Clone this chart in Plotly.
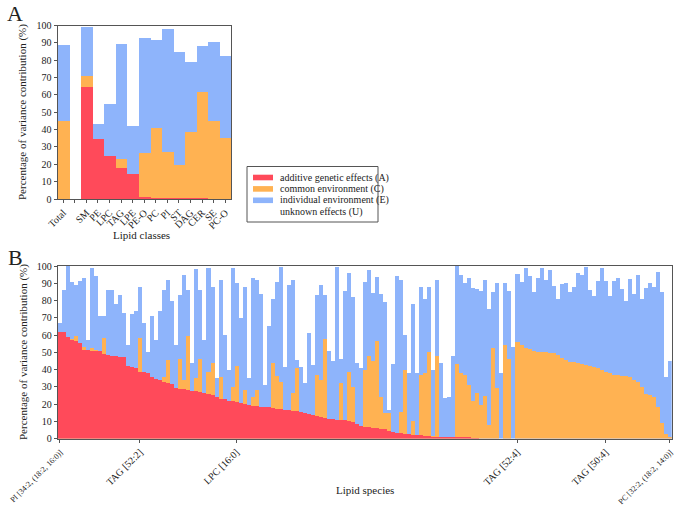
import plotly.graph_objects as go

W, H = 675, 505
RED = "#FF4A5A"
ORANGE = "#FFB252"
BLUE = "#8EB4FB"
FONT = "Liberation Serif"

# ---- panel A: lipid classes ----
class_names = ["Total", " ", "SM", "PE", "LPC", "TAG", "LPE", "PE-O", "PC", "PI", "ST", "DAG", "CER", "SE", "PC-O"]
# cumulative levels: A, A+C, A+C+E
class_a = [0, 0, 65, 35, 25, 18, 14.5, 1.5, 1, 0.8, 0.5, 0.3, 0.3, 0.2, 0]
class_ac = [45, 0, 71, 35, 25, 23.5, 14.5, 27, 41.5, 27.5, 20, 39, 62, 45.5, 35.5]
class_ace = [89, 0, 99.5, 43.5, 55, 89.5, 42.5, 93, 92, 98.5, 85, 79, 88.5, 90.5, 82.5]

# ---- panel B: lipid species (sorted by heritability) ----
species_a = [
    62, 61.5, 59, 57, 56.5, 55.5, 51.5, 51.3, 51, 50.8, 50.5, 49, 48.3, 48, 48, 47.5, 47.3, 42, 41.5, 41,
    38.7, 38.5, 38, 35.5, 34.5, 33.8,
    33, 32, 31.5, 29, 28.5, 28.5, 28, 27.5, 27.5, 27, 26.5, 26, 25.5, 24, 23, 22.7, 22, 21.7, 21, 20.7,
    20, 19.5, 19, 18.7, 18.4,
    18.2, 18, 17.6, 17.3, 17, 16.8, 16.4, 16.2, 15.8, 15.3, 14.8, 14.3, 13.8, 13.2, 12.4, 11.8, 11.5, 11.2,
    11, 10.8, 10.5, 10, 9.5, 8.2, 7, 6.7, 6.5, 6.3, 6, 5.7, 5.4, 4.5, 3.6, 3.2, 3, 2.8, 2.5, 2.2, 2, 1.8,
    1.5, 1.2, 1.0, 0.8, 0.6, 0.5, 0.5, 0.4, 0.4, 0.3, 0.3, 0.3, 0.2, 0.2,
    0, 0, 0, 0, 0, 0, 0, 0, 0, 0, 0, 0, 0, 0, 0, 0, 0, 0, 0, 0, 0, 0, 0, 0,
    0, 0, 0, 0, 0, 0, 0, 0, 0, 0, 0, 0, 0, 0, 0, 0, 0, 0, 0, 0, 0, 0, 0, 0,
]
species_ac = [
    62, 61.5, 59, 57.5, 59.4, 55.5, 52.8, 51.3, 52.7, 51.5, 50.5, 58, 48.3, 48, 48, 47.5, 47.3, 42, 41.5, 41,
    58.5, 38.5, 38, 35.5, 34.5, 33.8,
    35.4, 45.5, 31.5, 29, 46, 34, 59.4, 27.5, 35, 46, 26.5, 38.7, 43.5, 24, 35.8, 22.7, 22, 30, 42, 20.7,
    28.4, 19.5, 24, 28.4, 18.4,
    18.2, 18, 44, 36, 33, 16.8, 16.4, 26.6, 40.7, 15.3, 14.8, 14.3, 13.8, 36.9, 34, 57.5, 11.5, 11.2,
    11, 32, 10.5, 38.8, 30, 8.2, 7, 39.6, 47.9, 45, 56.5, 24, 15, 14.5, 3.6, 3.2, 15.6, 40, 2.5, 10, 2, 37,
    38, 50, 1.2, 48, 0.6, 0.5, 0.5, 0.4, 43, 37.8, 37, 31, 22, 26.5,
    19.5, 24.7, 8, 52.5, 29, 0, 54, 46, 0, 56, 54, 52.5, 51.6, 50.6, 50.3, 50, 50, 49.7, 49.3, 48.4,
    46.4, 45.5, 44.5, 44.5, 43.5, 43, 42.5, 42, 41.6, 40.6, 39.6, 38.7, 37.7, 36.7, 36.7, 36.5, 36.2, 35.8,
    34.2, 32.9, 30, 25.7, 25, 24, 18.4, 9, 2.5, 0.5,
]
species_ace = [
    67, 86, 100, 91, 89, 91.5, 93, 57, 99, 94, 71, 71, 86, 86, 78, 83, 73, 54, 72, 74, 88, 67, 50, 71, 57, 74,
    86, 92, 80, 54, 83, 95, 86, 44, 98, 86, 57, 99, 88, 35, 92, 60, 40, 99, 90, 70, 88, 35, 93, 92, 84,
    31, 65, 81, 91, 99.6,
    41.7, 89, 92, 45.5, 41.7, 32, 61.4, 42.7, 83, 89, 83,
    51, 45, 99.6, 46, 85.7, 96, 82, 43.6, 40.7, 91,
    97.7, 84.5, 93.8, 84, 79,
    16.5, 43, 94, 92, 60, 38, 78, 38, 88, 81, 88, 40, 92, 44, 23.5, 24, 48,
    100, 95, 90, 93, 87, 86.5, 85.5, 92, 75, 85, 90.3, 38, 90.3, 85.5, 53, 95.4, 91, 99, 94, 85,
    93, 98.6, 92, 97.7, 88.4, 80.7, 89.6, 90, 85, 87.6, 96, 94.8, 99.2, 86, 82.6, 91.5, 98.6, 91.5,
    82.6, 91.5, 92.8, 86.5, 80, 92.3, 84, 94.8, 80.7, 87, 90, 87.6, 96.7, 85, 35.4, 45,
]
species_idx = list(range(len(species_ace)))
species_tick_pos = [0, 20, 44, 114, 136, 152]
species_tick_text = ["PI [34:2, (18:2, 16:0)]", "TAG [52:2]", "LPC [16:0]", "TAG [52:4]", "TAG [50:4]",
                     "PC [32:2, (18:2, 14:0)]"]

legend_labels = ["additive genetic effects (A)", "common environment (C)",
                 "individual environment (E)", "unknown effects (U)"]
legend_colors = [RED, ORANGE, BLUE, None]


def px_x(x):
    return x / W


def px_y(y):
    return 1 - y / H


# the two long end labels are set a little smaller so they stay inside the page
tick_labels_b = [
    "<span style='font-size:8px'>%s</span>" % t if len(t) > 12 else t for t in species_tick_text
]

fig = go.Figure()

for vals, col in [(class_ace, BLUE), (class_ac, ORANGE), (class_a, RED)]:
    fig.add_trace(go.Bar(x=class_names, y=vals, marker=dict(color=col, line=dict(width=0)),
                         xaxis="x", yaxis="y", showlegend=False, hoverinfo="skip"))
for vals, col in [(species_ace, BLUE), (species_ac, ORANGE), (species_a, RED)]:
    fig.add_trace(go.Bar(x=species_idx, y=vals, marker=dict(color=col, line=dict(width=0)),
                         xaxis="x2", yaxis="y2", showlegend=False, hoverinfo="skip"))

tickfont = dict(family=FONT, size=10, color="#222")
axis_common = dict(showline=True, linecolor="#555", linewidth=1, mirror=True, showgrid=False,
                   zeroline=False, ticks="outside", ticklen=3, tickcolor="#555", tickfont=tickfont,
                   automargin=False, ticklabeloverflow="allow")

fig.update_layout(
    width=W, height=H,
    margin=dict(l=0, r=0, t=0, b=0),
    paper_bgcolor="white", plot_bgcolor="white",
    barmode="overlay", bargap=0,
    font=dict(family=FONT, color="#222"),
    xaxis=dict(domain=[px_x(57.5), px_x(231)], anchor="y", type="category", tickangle=-45,
               tickmode="array", tickvals=class_names, ticktext=class_names, **axis_common),
    yaxis=dict(domain=[px_y(199), px_y(25.5)], anchor="x", range=[0, 100], dtick=10, **axis_common),
    xaxis2=dict(domain=[px_x(57.7), px_x(671.7)], anchor="y2", range=[-0.5, len(species_ace) - 0.5],
                tickmode="array", tickvals=species_tick_pos, ticktext=tick_labels_b, tickangle=-45,
                **axis_common),
    yaxis2=dict(domain=[px_y(438.5), px_y(266)], anchor="x2", range=[0, 100], dtick=10, **axis_common),
)

ann = [
    dict(text="A", x=px_x(15), y=px_y(13), font=dict(size=22)),
    dict(text="B", x=px_x(15), y=px_y(257), font=dict(size=22)),
    dict(text="Percentage of variance contribution (%)", x=px_x(23), y=px_y(112), textangle=-90,
         font=dict(size=11)),
    dict(text="Percentage of variance contribution (%)", x=px_x(23), y=px_y(352), textangle=-90,
         font=dict(size=11)),
    dict(text="Lipid classes", x=px_x(141), y=px_y(235), font=dict(size=11)),
    dict(text="Lipid species", x=px_x(365), y=px_y(490), font=dict(size=11)),
]
for a in ann:
    a.update(xref="paper", yref="paper", showarrow=False, xanchor="center", yanchor="middle")
    a["font"] = dict(family=FONT, color="#222", **a["font"])
    fig.add_annotation(**a)

# legend box for panel A
fig.add_shape(type="rect", xref="paper", yref="paper", x0=px_x(247), x1=px_x(378), y0=px_y(222), y1=px_y(166.5),
              line=dict(color="#555", width=1), fillcolor="white")
for i, (lab, col) in enumerate(zip(legend_labels, legend_colors)):
    yc = 177.5 + i * 11.4
    if col:
        fig.add_shape(type="rect", xref="paper", yref="paper", x0=px_x(253), x1=px_x(273),
                      y0=px_y(yc + 2.8), y1=px_y(yc - 2.8), line=dict(width=0), fillcolor=col)
    fig.add_annotation(text=lab, xref="paper", yref="paper", x=px_x(277.5), y=px_y(yc), showarrow=False,
                       xanchor="left", yanchor="middle", font=dict(family=FONT, size=10, color="#222"))

# page body has a default 8px margin; drop it so the figure fills the window
fig.write_html("out.html", config={"displayModeBar": False},
               post_script="document.body.style.margin='0';")
